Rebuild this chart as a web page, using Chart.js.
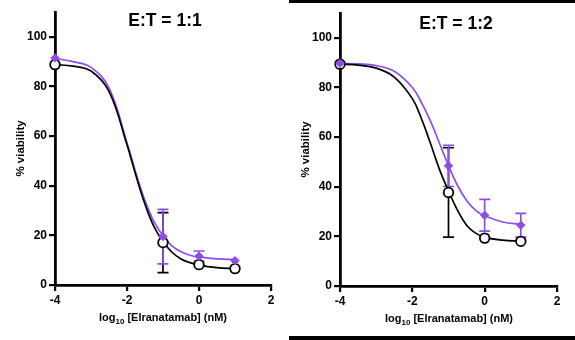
<!DOCTYPE html>
<html>
<head>
<meta charset="utf-8">
<script src="https://cdn.jsdelivr.net/npm/chart.js@4"></script>
<style>
  html, body { margin: 0; padding: 0; background: #fff; }
  #wrap { position: relative; width: 575px; height: 340px; overflow: hidden; background: #fff; }
  #left { position: absolute; left: 0; top: 0; }
  #right { position: absolute; left: 285px; top: 0; }
  .rule { position: absolute; left: 289px; width: 286px; background: #000; }
</style>
</head>
<body>
<div id="wrap">
  <canvas id="left" width="287" height="340"></canvas>
  <canvas id="right" width="290" height="340"></canvas>
  <div class="rule" style="top:0;height:3px"></div>
  <div class="rule" style="top:336px;height:4px"></div>
</div>
<script>
// dose axis (log10 nM) and ticks
const CURVE_X = [-4, -3.5, -3, -2.5, -2, -1.75, -1.5, -1.25, -1, -0.75, -0.5, -0.25, 0, 0.5, 1];
const DOSE_X = [-4, -1, 0, 1];
const X_TICKS = [-4, -2, 0, 2];
const Y_TICKS = [0, 20, 40, 60, 80, 100];

// E:T = 1:1
const fit11Black = [88.8, 88.2, 86.2, 78, 56.5, 44, 32.5, 23.5, 17.5, 13.2, 10.5, 9, 8, 7, 6.6];
const fit11Purple = [91.3, 90, 87.7, 79.4, 57.3, 45, 34, 25.5, 19.8, 15.8, 13.4, 12, 11.3, 10.5, 10.2];
const mean11Black = [88.8, 17.1, 8.2, 6.6];
const sd11Black = [0, 12.1, 0, 0];
const mean11Purple = [91.5, 19.5, 11.6, 9.8];
const sd11Purple = [0, 11, 2.1, 0];

// E:T = 1:2
const fit12Black = [89.4, 89, 87.8, 84.2, 75.5, 67.5, 57.5, 47, 38.3, 30.5, 24.5, 21.3, 19.6, 18.5, 18.1];
const fit12Purple = [89.7, 89.5, 88.8, 86.5, 80, 74, 66.5, 57.5, 48.5, 40.5, 34.5, 30.5, 28.3, 25.8, 24.8];
const mean12Black = [89.4, 37.7, 19.3, 18];
const sd12Black = [0, 18, 0, 0];
const mean12Purple = [89.7, 48.4, 28.5, 24.5];
const sd12Purple = [0, 8.3, 6.4, 4.8];

const FONT = '"Liberation Sans", Arial, sans-serif';
const PURPLE = '#8f4de8';

Chart.defaults.font.family = FONT;
Chart.defaults.color = '#000';

// SD whiskers with caps, drawn under the symbols
const errorBars = {
    id: 'errorBars',
    beforeDatasetsDraw(chart) {
        const { ctx, scales: { x, y } } = chart;
        chart.data.datasets.forEach(ds => {
            if (!ds.errors) return;
            ctx.save();
            ctx.strokeStyle = ds.borderColor;
            ctx.lineWidth = 1.7;
            ds.data.forEach((p, i) => {
                const e = ds.errors[i];
                if (!e) return;
                const px = x.getPixelForValue(p.x);
                const top = y.getPixelForValue(p.y + e);
                const bot = y.getPixelForValue(p.y - e);
                ctx.beginPath();
                ctx.moveTo(px, top); ctx.lineTo(px, bot);
                ctx.moveTo(px - 5.5, top); ctx.lineTo(px + 5.5, top);
                ctx.moveTo(px - 5.5, bot); ctx.lineTo(px + 5.5, bot);
                ctx.stroke();
            });
            ctx.restore();
        });
    }
};

// panel heading and the x-axis title (needs a subscript, so drawn by hand)
const panelText = {
    id: 'panelText',
    afterDraw(chart, args, opts) {
        const { ctx } = chart;
        ctx.save();
        ctx.fillStyle = '#000';
        ctx.textBaseline = 'alphabetic';
        ctx.textAlign = 'center';
        ctx.font = `bold 17.5px ${FONT}`;
        ctx.fillText(opts.title, opts.titleX, opts.titleY);

        const big = `bold 11px ${FONT}`, small = `bold 8px ${FONT}`;
        const rest = ' [Elranatamab] (nM)';
        ctx.font = big;
        const w1 = ctx.measureText('log').width;
        const w3 = ctx.measureText(rest).width;
        ctx.font = small;
        const w2 = ctx.measureText('10').width;
        const sx = opts.xTitleX - (w1 + w2 + w3) / 2;
        ctx.textAlign = 'left';
        ctx.font = big;
        ctx.fillText('log', sx, opts.xTitleY);
        ctx.font = small;
        ctx.fillText('10', sx + w1, opts.xTitleY + 3);
        ctx.font = big;
        ctx.fillText(rest, sx + w1 + w2, opts.xTitleY);
        ctx.restore();
    }
};

function toPoints(xs, ys) {
    return xs.map((x, i) => ({ x, y: ys[i] }));
}

function fitLine(ys, color) {
    return {
        data: toPoints(CURVE_X, ys),
        showLine: true,
        borderColor: color,
        borderWidth: 1.7,
        pointRadius: 0,
        tension: 0.4,
        clip: false,
        order: 2
    };
}

function makePanel(canvasId, p) {
    const ctx = document.getElementById(canvasId).getContext('2d');
    return new Chart(ctx, {
        type: 'scatter',
        data: {
            datasets: [
                fitLine(p.fitBlack, '#000'),
                fitLine(p.fitPurple, PURPLE),
                {
                    data: toPoints(DOSE_X, p.meanBlack),
                    errors: p.sdBlack,
                    pointStyle: 'circle',
                    pointRadius: 4.8,
                    borderWidth: 1.8,
                    borderColor: '#000',
                    backgroundColor: '#fff',
                    clip: false,
                    order: 1
                },
                {
                    data: toPoints(DOSE_X, p.meanPurple),
                    errors: p.sdPurple,
                    pointStyle: 'rectRot',
                    pointRadius: 4.2,
                    borderWidth: 1,
                    borderColor: PURPLE,
                    backgroundColor: PURPLE,
                    clip: false,
                    order: 0
                }
            ]
        },
        options: {
            responsive: false,
            animation: false,
            events: [],
            layout: { padding: p.padding },
            plugins: {
                legend: { display: false },
                tooltip: { enabled: false },
                panelText: p.text
            },
            scales: {
                x: {
                    type: 'linear', min: -4, max: 2,
                    afterBuildTicks: s => { s.ticks = X_TICKS.map(v => ({ value: v })); },
                    afterFit: s => { s.height = p.xHeight; },
                    ticks: { color: '#000', font: { size: 12, weight: 'bold' }, padding: 2, maxRotation: 0 },
                    grid: { drawOnChartArea: false, color: '#000', lineWidth: 2.2, tickLength: 6 },
                    border: { color: '#000', width: 2.8 }
                },
                y: {
                    type: 'linear', min: 0, max: 110,
                    afterBuildTicks: s => { s.ticks = Y_TICKS.map(v => ({ value: v })); },
                    afterFit: s => { s.width = 55; },
                    ticks: { color: '#000', font: { size: 12, weight: 'bold' }, padding: 2 },
                    grid: { drawOnChartArea: false, color: '#000', lineWidth: 2.2, tickLength: 6 },
                    border: { color: '#000', width: 2.8 },
                    title: {
                        display: true, text: '% viability', color: '#000',
                        font: { size: 11.5, weight: 'bold' }, padding: { top: 14, bottom: 0 }
                    }
                }
            }
        },
        plugins: [errorBars, panelText]
    });
}

document.addEventListener('DOMContentLoaded', () => {
    makePanel('left', {
        fitBlack: fit11Black, fitPurple: fit11Purple,
        meanBlack: mean11Black, sdBlack: sd11Black,
        meanPurple: mean11Purple, sdPurple: sd11Purple,
        padding: { top: 12, right: 16, bottom: 0, left: 0 },
        xHeight: 55,
        text: { title: 'E:T = 1:1', titleX: 165, titleY: 25.5, xTitleX: 163, xTitleY: 321 }
    });
    makePanel('right', {
        fitBlack: fit12Black, fitPurple: fit12Purple,
        meanBlack: mean12Black, sdBlack: sd12Black,
        meanPurple: mean12Purple, sdPurple: sd12Purple,
        padding: { top: 13, right: 18, bottom: 0, left: 0 },
        xHeight: 54,
        text: { title: 'E:T = 1:2', titleX: 171, titleY: 28.5, xTitleX: 164, xTitleY: 322 }
    });
});
</script>
</body>
</html>
